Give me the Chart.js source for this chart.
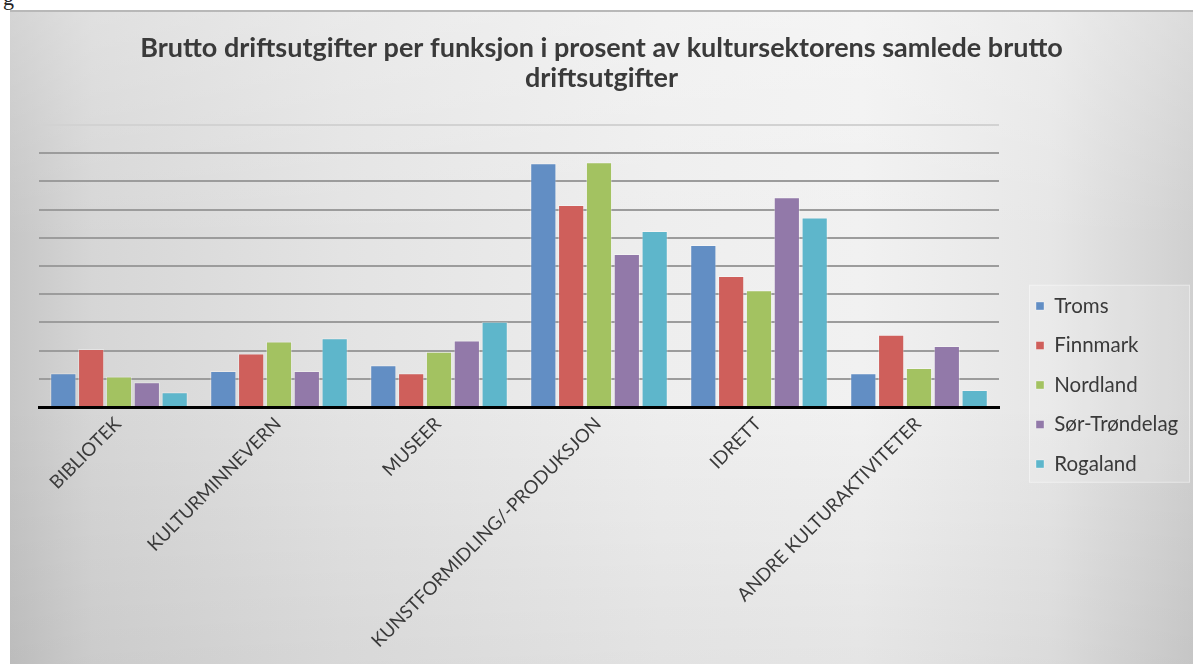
<!DOCTYPE html>
<html lang="no">
<head>
<meta charset="utf-8">
<title>Brutto driftsutgifter per funksjon</title>
<script src="https://cdn.jsdelivr.net/npm/chart.js@4.4.1/dist/chart.umd.min.js"></script>
<style>
  html, body { margin: 0; padding: 0; background: #fff; }
  body { width: 1193px; height: 664px; position: relative; overflow: hidden; }
  .pageText { position: absolute; left: 3px; top: -15px; font: 22px "Liberation Serif", serif; color: #222; }
  .frame {
    position: absolute; left: 10px; top: 10px; width: 1183px; height: 654px;
    border-top: 2px solid #b8b8b8; box-sizing: border-box;
    background:
      linear-gradient(to bottom, rgba(255,255,255,0.25) 0%, rgba(255,255,255,0) 35%, rgba(0,0,0,0) 60%, rgba(0,0,0,0.05) 100%),
      linear-gradient(to right, #c6c6c6 0%, #d6d6d6 7%, #e3e3e3 28%, #eeeeee 55%, #f1f1f1 72%, #e6e6e6 88%, #d0d0d0 100%);
  }
  #wrap { position: absolute; left: 10px; top: 10px; width: 1183px; height: 654px; }
</style>
</head>
<body>
<div class="pageText">g</div>
<div class="frame"></div>
<div id="wrap"><canvas id="chart" width="1183" height="654"></canvas></div>
<script>
// Values (percent of total gross operating expenses)
const categories = ['BIBLIOTEK', 'KULTURMINNEVERN', 'MUSEER', 'KUNSTFORMIDLING/-PRODUKSJON', 'IDRETT', 'ANDRE KULTURAKTIVITETER'];
const seriesNames = ['Troms', 'Finnmark', 'Nordland', 'Sør-Trøndelag', 'Rogaland'];
const troms = [6.0, 6.4, 7.4, 43.2, 28.7, 6.0];
const finnmark = [10.3, 9.5, 6.0, 35.8, 23.2, 12.8];
const nordland = [5.4, 11.6, 9.8, 43.4, 20.7, 6.9];
const sorTrondelag = [4.4, 6.4, 11.8, 27.1, 37.2, 10.8];
const rogaland = [2.6, 12.2, 15.1, 31.2, 33.6, 3.0];
const yMax = 50;
const yStep = 5;

const colors = ['#628ec4', '#cf5f5b', '#a3c261', '#9279a9', '#5eb6cb'];
const FONT = 'Lato, "Open Sans", sans-serif';

// Legend is pushed a bit to the right and down, with a fixed width
const legendWidth = 194;
const legendShiftX = 18;
const legendShiftY = 48;
const legendPad = 19;

const legendTune = {
  id: 'legendTune',
  afterInit(chart) {
    const legend = chart.legend;
    const fit = legend.fit;
    legend.fit = function() {
      fit.call(this);
      this.width = legendWidth;
    };
  },
  afterLayout(chart) {
    const legend = chart.legend;
    legend.left += legendShiftX;
    legend.right += legendShiftX;
    legend.top += legendShiftY;
    legend.bottom += legendShiftY;
  },
  beforeDraw(chart) {
    // light panel behind the legend
    const legend = chart.legend;
    const ctx = chart.ctx;
    const colH = legend.columnSizes && legend.columnSizes[0] ? legend.columnSizes[0].height : 200;
    const x = legend.left + 12;
    const y = (legend.top + legendPad + legend.bottom - colH) / 2 - 11;
    ctx.save();
    ctx.fillStyle = 'rgba(255,255,255,0.16)';
    ctx.strokeStyle = 'rgba(255,255,255,0.4)';
    ctx.lineWidth = 1;
    ctx.fillRect(x, y, chart.width - x - 3, 198);
    ctx.strokeRect(x + 0.5, y + 0.5, chart.width - x - 4, 197);
    ctx.restore();
  }
};

const seriesData = [troms, finnmark, nordland, sorTrondelag, rogaland];

const chart = new Chart(document.getElementById('chart').getContext('2d'), {
  type: 'bar',
  data: {
    labels: categories,
    datasets: seriesNames.map((name, i) => ({
      label: name,
      data: seriesData[i],
      backgroundColor: colors[i],
      borderColor: 'rgba(255,255,255,0.35)',
      borderWidth: 1,
      categoryPercentage: 0.87,
      barPercentage: 0.94
    }))
  },
  options: {
    responsive: false,
    animation: false,
    layout: {
      padding: 0
    },
    scales: {
      x: {
        grid: { display: false, drawTicks: false },
        border: { display: true, color: '#000', width: 3 },
        ticks: {
          autoSkip: false,
          minRotation: 45,
          maxRotation: 45,
          padding: 6,
          labelOffset: -1,
          color: '#3a3a3a',
          font: { family: FONT, size: 18.5 }
        },
        afterFit: function(axis) {
          axis.height = 257;
        }
      },
      y: {
        min: 0,
        max: yMax,
        ticks: { display: false, stepSize: yStep },
        border: { display: false },
        grid: {
          drawTicks: false,
          lineWidth: 2,
          color: function(ctx) {
            return ctx.tick && ctx.tick.value === yMax ? '#d2d2d2' : '#9c9c9c';
          }
        },
        afterFit: function(axis) {
          axis.width = 29;
        }
      }
    },
    plugins: {
      title: {
        display: true,
        text: ['Brutto driftsutgifter per funksjon i prosent av kultursektorens samlede brutto', 'driftsutgifter'],
        color: '#3a3a3a',
        font: { family: FONT, size: 27, weight: 'bold', lineHeight: 1.11 },
        padding: { top: 23, bottom: 32 }
      },
      legend: {
        position: 'right',
        labels: {
          boxWidth: 8,
          boxHeight: 8,
          padding: legendPad,
          color: '#3a3a3a',
          font: { family: FONT, size: 20.5 }
        }
      },
      tooltip: { enabled: false }
    }
  },
  plugins: [legendTune]
});
</script>
</body>
</html>
